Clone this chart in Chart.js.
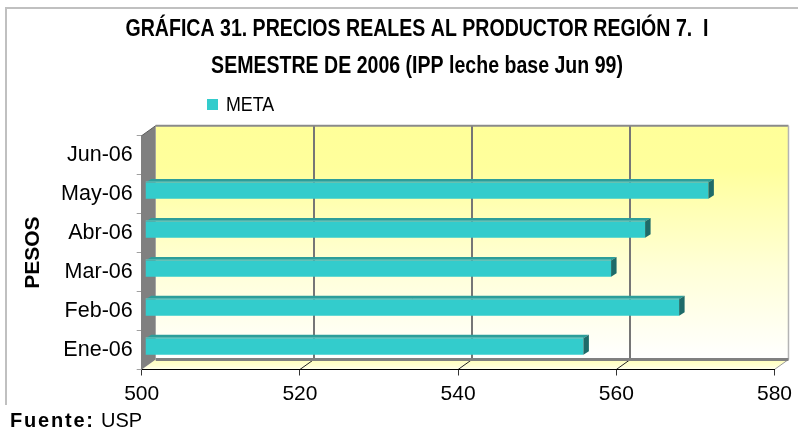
<!DOCTYPE html>
<html><head><meta charset="utf-8">
<script src="https://cdn.jsdelivr.net/npm/chart.js@4/dist/chart.umd.min.js"></script>
<style>html,body{margin:0;padding:0;background:#fff}#wrap{width:798px;height:432px;position:relative}</style>
</head><body><div id="wrap"><canvas id="c" width="798" height="432"></canvas></div>
<script>
// ---- data ----
const categories = ['Ene-06', 'Feb-06', 'Mar-06', 'Abr-06', 'May-06', 'Jun-06'];
const metaValues = [555.4, 567.5, 558.9, 563.2, 571.2, null];
const xTicks = [500, 520, 540, 560, 580];
const seriesName = 'META';
const titleLines = ['GRÁFICA 31. PRECIOS REALES AL PRODUCTOR REGIÓN 7.  I', 'SEMESTRE DE 2006 (IPP leche base Jun 99)'];
const axisTitle = 'PESOS';
const sourceLabel = 'Fuente:';
const sourceText = 'USP';

// ---- styling ----
const BAR = '#33CCCC', BAR_TOP = '#2C9E9A', BAR_SIDE = '#1E6B69';
const DX = 14, DY = 10;        // wall depth
const BX = 3.5, BY = -3.5;     // bar offset into depth
const BDX = 5.5, BDY = 3.5;    // bar depth
const SANS = '"Liberation Sans", Arial, sans-serif';
const CONDENSE = 0.85;

function condensedText(ctx, text, cx, cy, align) {
  ctx.save();
  ctx.translate(cx, cy);
  ctx.scale(CONDENSE, 1);
  ctx.textAlign = align;
  ctx.fillText(text, 0, 0);
  ctx.restore();
}

const scene = {
  id: 'scene3d',
  beforeDraw(chart) {
    const {ctx, chartArea: a, scales: {x}} = chart;
    ctx.save();
    ctx.fillStyle = '#fff';
    ctx.fillRect(0, 0, chart.width, chart.height);
    // outer frame
    ctx.strokeStyle = '#c0c0c0'; ctx.lineWidth = 2;
    ctx.beginPath(); ctx.moveTo(6, 405); ctx.lineTo(6, 8); ctx.lineTo(chart.width, 8); ctx.stroke();
    const bl = a.left + DX, br = a.right + DX, bt = a.top - DY, bb = a.bottom - DY;
    // back wall
    const g = ctx.createLinearGradient(0, bt, 0, bb);
    g.addColorStop(0, '#FFFF99'); g.addColorStop(0.18, '#FFFF9C'); g.addColorStop(0.6, '#FFFFD6'); g.addColorStop(1, '#FFFFFF');
    ctx.fillStyle = g; ctx.fillRect(bl, bt, br - bl, bb - bt);
    // gridlines on back wall
    ctx.strokeStyle = '#767676'; ctx.lineWidth = 2;
    xTicks.slice(1, -1).forEach(v => {
      const px = Math.round(x.getPixelForValue(v) + DX);
      ctx.beginPath(); ctx.moveTo(px, bt); ctx.lineTo(px, bb); ctx.stroke();
    });
    // back wall borders
    ctx.strokeStyle = '#8a8a8a'; ctx.lineWidth = 2;
    ctx.beginPath(); ctx.moveTo(bl, bt); ctx.lineTo(br, bt); ctx.stroke();
    ctx.strokeStyle = '#b4b4b4'; ctx.lineWidth = 1.5;
    ctx.beginPath(); ctx.moveTo(br, bt); ctx.lineTo(br, bb); ctx.stroke();
    // floor
    const fg = ctx.createLinearGradient(0, bb, 0, a.bottom);
    fg.addColorStop(0, '#FFFFB8'); fg.addColorStop(0.7, '#FFFFD8'); fg.addColorStop(1, '#FFFFF4');
    ctx.fillStyle = fg;
    ctx.beginPath(); ctx.moveTo(a.left, a.bottom); ctx.lineTo(a.right, a.bottom); ctx.lineTo(br, bb); ctx.lineTo(bl, bb); ctx.closePath(); ctx.fill();
    ctx.strokeStyle = '#9a9a9a'; ctx.lineWidth = 1;
    ctx.beginPath(); ctx.moveTo(a.right, a.bottom); ctx.lineTo(br, bb); ctx.stroke();
    // floor diagonals
    ctx.strokeStyle = '#222'; ctx.lineWidth = 1;
    xTicks.slice(1, -1).forEach(v => {
      const px = x.getPixelForValue(v);
      ctx.beginPath(); ctx.moveTo(px, a.bottom); ctx.lineTo(px + DX, bb); ctx.stroke();
    });
    // back bottom edge
    ctx.strokeStyle = '#808080'; ctx.lineWidth = 3;
    ctx.beginPath(); ctx.moveTo(bl, bb); ctx.lineTo(br, bb); ctx.stroke();
    // left wall
    ctx.fillStyle = '#808080';
    ctx.beginPath(); ctx.moveTo(a.left, a.top); ctx.lineTo(bl, bt); ctx.lineTo(bl, bb); ctx.lineTo(a.left, a.bottom); ctx.closePath(); ctx.fill();
    ctx.strokeStyle = '#5a5a5a'; ctx.lineWidth = 1;
    ctx.beginPath(); ctx.moveTo(a.left, a.top); ctx.lineTo(bl, bt); ctx.stroke();
    ctx.restore();
  },
  beforeDatasetsDraw(chart) {
    chart.ctx.save();
    chart.ctx.translate(BX, BY);
  },
  afterDatasetsDraw(chart) {
    const ctx = chart.ctx;
    const a = chart.chartArea;
    chart.getDatasetMeta(0).data.forEach((bar, i) => {
      if (metaValues[i] == null) return;
      const p = bar.getProps(['x', 'y', 'base', 'height'], true);
      const x0 = Math.max(Math.min(p.base, p.x), a.left), x1 = Math.max(p.base, p.x);
      const y0 = p.y - p.height / 2, y1 = p.y + p.height / 2;
      ctx.fillStyle = BAR_TOP;
      ctx.beginPath(); ctx.moveTo(x0, y0); ctx.lineTo(x1, y0); ctx.lineTo(x1 + BDX, y0 - BDY); ctx.lineTo(x0 + BDX, y0 - BDY); ctx.closePath(); ctx.fill();
      ctx.strokeStyle = '#6cc4bd'; ctx.lineWidth = 1;
      ctx.beginPath(); ctx.moveTo(x0, y0 - 0.5); ctx.lineTo(x1, y0 - 0.5); ctx.stroke();
      ctx.fillStyle = BAR_SIDE;
      ctx.beginPath(); ctx.moveTo(x1, y0); ctx.lineTo(x1 + BDX, y0 - BDY); ctx.lineTo(x1 + BDX, y1 - BDY); ctx.lineTo(x1, y1); ctx.closePath(); ctx.fill();
    });
    ctx.restore();
  },
  afterDraw(chart) {
    const ctx = chart.ctx;
    ctx.save();
    ctx.fillStyle = '#000';
    ctx.textBaseline = 'middle';
    ctx.font = 'bold 23px ' + SANS;
    condensedText(ctx, titleLines[0], 417, 30, 'center');
    condensedText(ctx, titleLines[1], 417, 67, 'center');
    // legend
    ctx.fillStyle = BAR;
    ctx.fillRect(207, 99, 11, 11);
    ctx.fillStyle = '#000';
    ctx.font = '21px ' + SANS;
    condensedText(ctx, seriesName, 226, 105, 'left');
    // source
    ctx.textAlign = 'left';
    ctx.font = 'bold 20px ' + SANS;
    let cx = 10;
    for (const ch of sourceLabel) { ctx.fillText(ch, cx, 421); cx += ctx.measureText(ch).width + 1.8; }
    ctx.font = '20px ' + SANS;
    ctx.fillText(sourceText, 101, 421);
    ctx.restore();
  }
};

new Chart(document.getElementById('c'), {
  type: 'bar',
  data: {
    labels: categories,
    datasets: [{
      label: seriesName,
      data: metaValues,
      base: xTicks[0],
      backgroundColor: BAR,
      borderWidth: 0,
      barPercentage: 0.42,
      categoryPercentage: 1
    }]
  },
  options: {
    indexAxis: 'y',
    responsive: false,
    animation: false,
    devicePixelRatio: 1,
    layout: {padding: {top: 135.7, right: 19, left: 0, bottom: 0}},
    plugins: {legend: {display: false}, title: {display: false}, tooltip: {enabled: false}},
    scales: {
      x: {
        min: xTicks[0], max: xTicks[xTicks.length - 1],
        ticks: {stepSize: xTicks[1] - xTicks[0], color: '#000', font: {family: SANS, size: 21}, padding: 6, maxRotation: 0},
        grid: {drawOnChartArea: false, drawTicks: true, tickLength: 6, color: '#333'},
        border: {display: true, color: '#000', width: 1},
        afterFit(s) { s.height = 62.5; }
      },
      y: {
        reverse: true,
        ticks: {color: '#000', font: {family: SANS, size: 21.5}, padding: 4},
        grid: {drawOnChartArea: false, drawTicks: true, tickLength: 5, color: '#a0a0a0'},
        border: {display: true, color: '#808080', width: 1},
        title: {display: true, text: axisTitle, color: '#000', font: {family: SANS, size: 21, weight: 'bold'}, padding: {top: 20.4, bottom: 0}},
        afterFit(s) { s.width = 141.7; }
      }
    }
  },
  plugins: [scene]
});
</script></body></html>
